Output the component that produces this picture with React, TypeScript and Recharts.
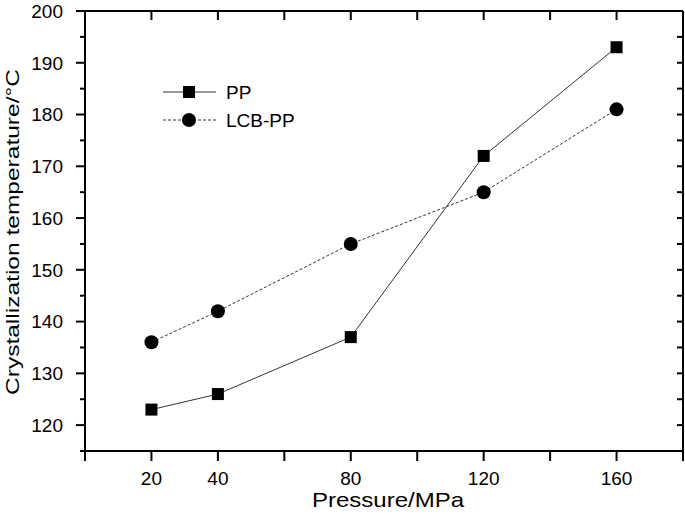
import React from "react";
import { LineChart, Line, XAxis, YAxis, Legend, ReferenceLine } from "recharts";

const pressures = [20, 40, 80, 120, 160];
const ppTemps = [123, 126, 137, 172, 193];
const lcbTemps = [136, 142, 155, 165, 181];

const xTicks = [0, 20, 40, 60, 80, 100, 120, 140, 160, 180];
const xLabels = [20, 40, 80, 120, 160];
const yTicks = [115, 120, 125, 130, 135, 140, 145, 150, 155, 160, 165, 170, 175, 180, 185, 190, 195, 200];
const xMax = 180;
const yMin = 115;
const yMax = 200;

const FONT = '"Liberation Sans", Arial, Helvetica, sans-serif';

// layout
const W = 685;
const H = 526;
const MARGIN = { top: 11, right: 2, left: 0, bottom: 0 };
const Y_AXIS_W = 85;
const X_AXIS_H = 75;
const PLOT = {
  left: MARGIN.left + Y_AXIS_W,
  right: W - MARGIN.right,
  top: MARGIN.top,
  bottom: H - MARGIN.bottom - X_AXIS_H,
};

const data = pressures.map((p, i) => ({ pressure: p, pp: ppTemps[i], lcb: lcbTemps[i] }));

const SquareDot = (props: any) => {
  const { cx, cy } = props;
  if (cx == null || cy == null) return null;
  return <rect x={cx - 6} y={cy - 6} width={12} height={12} fill="#000" />;
};

const CircleDot = (props: any) => {
  const { cx, cy } = props;
  if (cx == null || cy == null) return null;
  return <circle cx={cx} cy={cy} r={7} fill="#000" />;
};

// left axis: major/minor tick marks, labels on 10s
const LeftTick = (props: any) => {
  const { x, y, payload } = props;
  const v = payload.value;
  const axisX = x + 13 + 9;
  const major = v % 10 === 0;
  return (
    <g>
      <line x1={axisX - (major ? 9 : 5)} x2={axisX} y1={y} y2={y} stroke="#000" strokeWidth={2} />
      {major && v >= 120 && (
        <text x={x} y={y} dy="0.36em" textAnchor="end" fontSize={19} fontFamily={FONT} fill="#000">
          {v}
        </text>
      )}
    </g>
  );
};

const BottomTick = (props: any) => {
  const { x, y, payload } = props;
  if (!xLabels.includes(payload.value)) return null;
  return (
    <text x={x} y={y} dy="0.71em" textAnchor="middle" fontSize={19} fontFamily={FONT} fill="#000">
      {payload.value}
    </text>
  );
};

// inward ticks on the top and right frame, laid over the chart
const FrameTicks = () => {
  const px = (t: number) => PLOT.left + (t / xMax) * (PLOT.right - PLOT.left);
  const py = (v: number) => PLOT.top + ((yMax - v) / (yMax - yMin)) * (PLOT.bottom - PLOT.top);
  return (
    <svg width={W} height={H} style={{ position: "absolute", left: 0, top: 0, pointerEvents: "none" }}>
      {xTicks.map((t) => (
        <line key={"x" + t} x1={px(t)} x2={px(t)} y1={PLOT.top} y2={PLOT.top + 9} stroke="#000" strokeWidth={2} />
      ))}
      {yTicks.map((v) => (
        <line key={"y" + v} x1={PLOT.right - 6} x2={PLOT.right} y1={py(v)} y2={py(v)} stroke="#000" strokeWidth={2} />
      ))}
    </svg>
  );
};

const XTitle = () => (
  <text x={388} y={507} textAnchor="middle" fontSize={21} textLength={152} lengthAdjust="spacingAndGlyphs"
    fontFamily={FONT} fill="#000">
    Pressure/MPa
  </text>
);

const YTitle = () => (
  <text x={18.5} y={232} transform="rotate(-90, 18.5, 232)" textAnchor="middle" fontSize={19} textLength={326}
    lengthAdjust="spacingAndGlyphs" fontFamily={FONT} fill="#000">
    Crystallization temperature/°C
  </text>
);

const renderLegend = () => (
  <svg width={150} height={50} style={{ fontFamily: FONT }}>
    <line x1={1} x2={54} y1={12} y2={12} stroke="#333" strokeWidth={1} />
    <rect x={21} y={6} width={12} height={12} fill="#000" />
    <text x={64} y={12} dy="0.36em" fontSize={19} fontFamily={FONT} fill="#000">PP</text>
    <line x1={1} x2={54} y1={40} y2={40} stroke="#333" strokeWidth={1} strokeDasharray="3 2" />
    <circle cx={27} cy={40} r={7} fill="#000" />
    <text x={64} y={40} dy="0.36em" fontSize={19} fontFamily={FONT} fill="#000">LCB-PP</text>
  </svg>
);

export default function App() {
  return (
    <div style={{ position: "absolute", left: 0, top: 0, width: W, height: H, background: "#fff", fontFamily: FONT }}>
      <LineChart width={W} height={H} data={data} margin={MARGIN} style={{ fontFamily: FONT }}>
        <XAxis
          xAxisId="x"
          dataKey="pressure"
          type="number"
          domain={[0, xMax]}
          ticks={xTicks}
          allowDataOverflow
          interval={0}
          height={X_AXIS_H}
          tickSize={10}
          tickMargin={11}
          axisLine={{ stroke: "#000", strokeWidth: 2 }}
          tickLine={{ stroke: "#000", strokeWidth: 2 }}
          tick={<BottomTick />}
          label={<XTitle />}
        />
        <YAxis
          yAxisId="y"
          type="number"
          domain={[yMin, yMax]}
          ticks={yTicks}
          allowDataOverflow
          interval={0}
          width={Y_AXIS_W}
          tickSize={9}
          tickMargin={13}
          axisLine={{ stroke: "#000", strokeWidth: 2 }}
          tickLine={false}
          tick={<LeftTick />}
          label={<YTitle />}
        />
        {/* frame: top and right borders */}
        <ReferenceLine xAxisId="x" yAxisId="y" y={yMax} stroke="#000" strokeWidth={2} />
        <ReferenceLine xAxisId="x" yAxisId="y" x={xMax} stroke="#000" strokeWidth={2} />
        <Legend
          layout="vertical"
          align="center"
          verticalAlign="middle"
          content={renderLegend}
          wrapperStyle={{ position: "absolute", left: 162, top: 80, width: 150, height: 50 }}
        />
        <Line
          xAxisId="x"
          yAxisId="y"
          dataKey="pp"
          name="PP"
          stroke="#333"
          strokeWidth={1}
          dot={<SquareDot />}
          activeDot={false}
          isAnimationActive={false}
        />
        <Line
          xAxisId="x"
          yAxisId="y"
          dataKey="lcb"
          name="LCB-PP"
          stroke="#333"
          strokeWidth={1}
          strokeDasharray="3 2"
          dot={<CircleDot />}
          activeDot={false}
          isAnimationActive={false}
        />
      </LineChart>
      <FrameTicks />
    </div>
  );
}
